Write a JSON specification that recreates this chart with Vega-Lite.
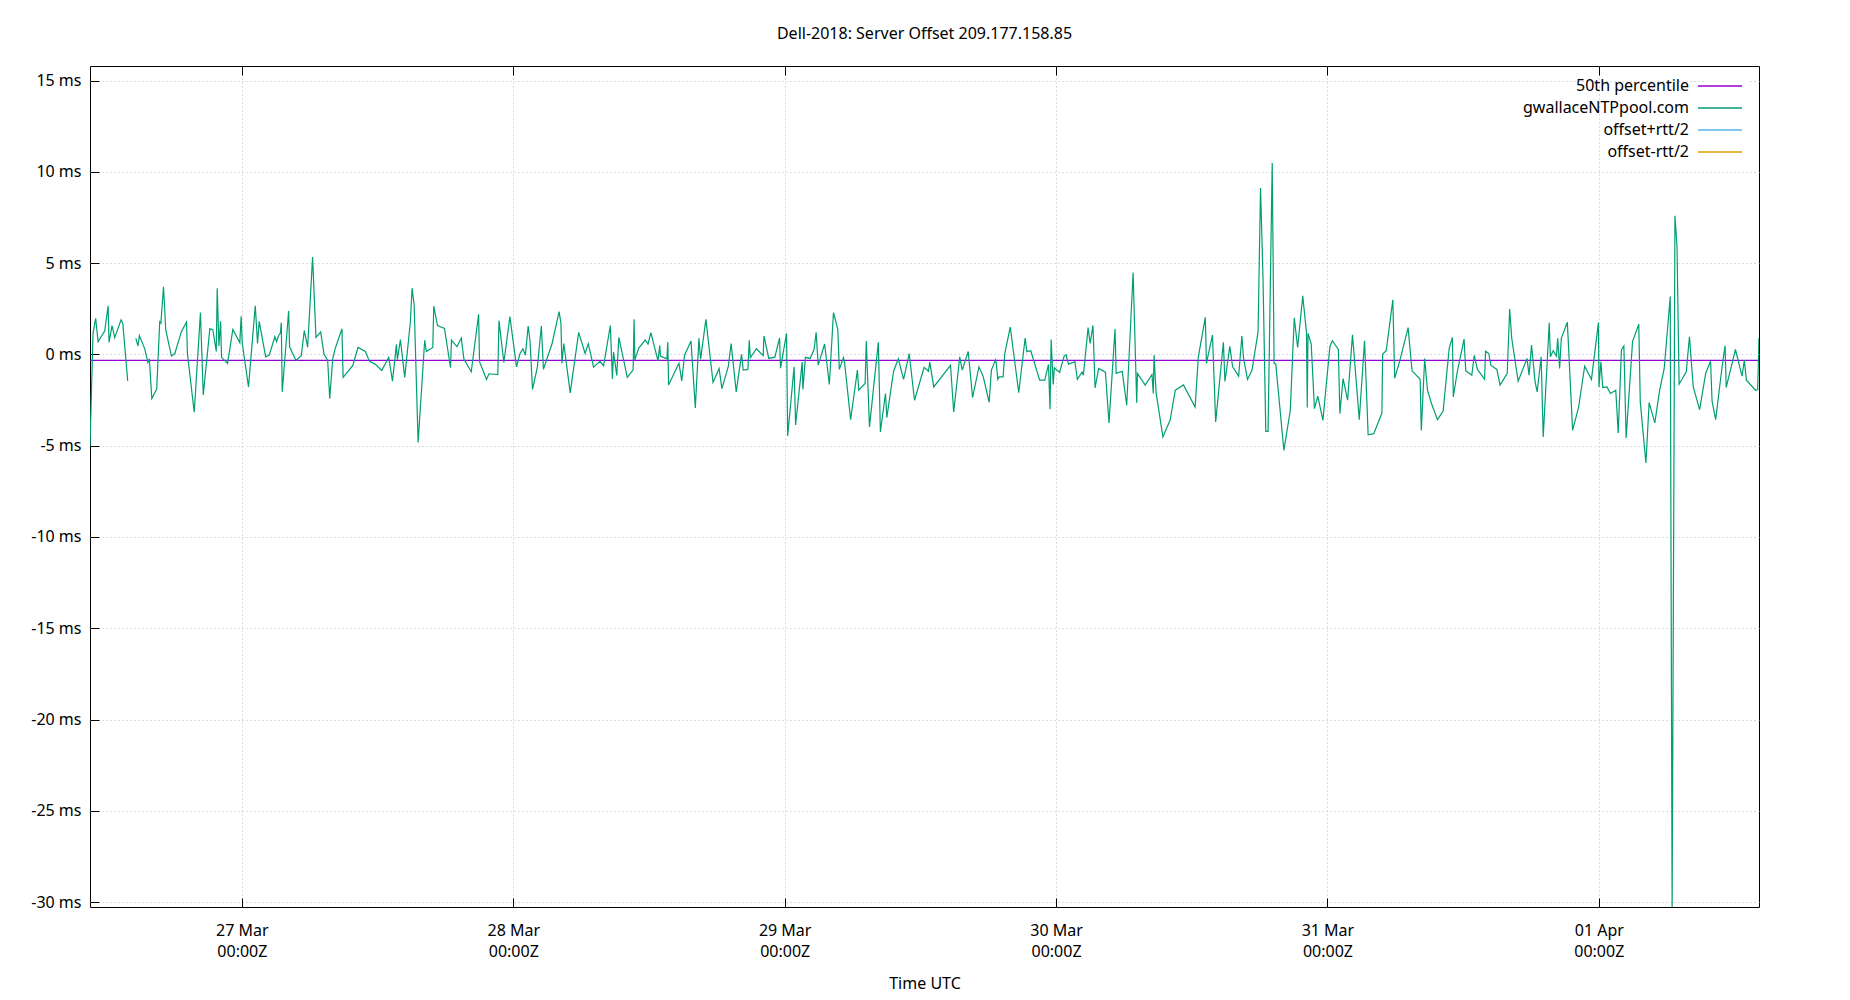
{
  "$schema": "https://vega.github.io/schema/vega-lite/v6.json",
  "description": "Server offset of one NTP pool server over about six days, with the median as a flat line.",
  "width": 1669,
  "height": 841,
  "autosize": {"type": "none"},
  "padding": {"left": 90, "top": 66, "right": 91, "bottom": 93},
  "background": "white",
  "title": {
    "text": "Dell-2018: Server Offset 209.177.158.85",
    "font": "Noto Sans",
    "fontSize": 16,
    "fontWeight": "normal",
    "color": "black",
    "anchor": "middle",
    "frame": "group",
    "offset": 24
  },
  "config": {
    "font": "Noto Sans",
    "view": {"stroke": "black", "strokeWidth": 1}
  },
  "datasets": {
    "median": [
      {"time": "2024-03-26T10:34Z", "offset": -0.33},
      {"time": "2024-04-01T14:10Z", "offset": -0.33}
    ],
    "ntp": [
      {"time": "2024-03-26T10:34Z", "offset": -5.0},
      {"time": "2024-03-26T10:50Z", "offset": 1.15},
      {"time": "2024-03-26T11:04Z", "offset": 1.98},
      {"time": "2024-03-26T11:17Z", "offset": 0.70},
      {"time": "2024-03-26T11:52Z", "offset": 1.28},
      {"time": "2024-03-26T12:10Z", "offset": 2.66},
      {"time": "2024-03-26T12:15Z", "offset": 0.66},
      {"time": "2024-03-26T12:31Z", "offset": 1.58},
      {"time": "2024-03-26T12:45Z", "offset": 0.92},
      {"time": "2024-03-26T13:19Z", "offset": 1.90},
      {"time": "2024-03-26T13:28Z", "offset": 1.70},
      {"time": "2024-03-26T13:54Z", "offset": -1.45},
      {"time": "2024-03-26T14:15Z", "offset": null},
      {"time": "2024-03-26T14:37Z", "offset": 0.88},
      {"time": "2024-03-26T14:49Z", "offset": 0.46},
      {"time": "2024-03-26T14:56Z", "offset": 1.03},
      {"time": "2024-03-26T15:25Z", "offset": 0.29},
      {"time": "2024-03-26T15:41Z", "offset": -0.44},
      {"time": "2024-03-26T15:49Z", "offset": -0.24},
      {"time": "2024-03-26T16:02Z", "offset": -2.42},
      {"time": "2024-03-26T16:28Z", "offset": -1.90},
      {"time": "2024-03-26T16:44Z", "offset": 1.79},
      {"time": "2024-03-26T16:50Z", "offset": 1.72},
      {"time": "2024-03-26T17:04Z", "offset": 3.70},
      {"time": "2024-03-26T17:16Z", "offset": 1.34},
      {"time": "2024-03-26T17:46Z", "offset": -0.09},
      {"time": "2024-03-26T18:04Z", "offset": 0.05},
      {"time": "2024-03-26T18:39Z", "offset": 1.25},
      {"time": "2024-03-26T19:06Z", "offset": 1.78},
      {"time": "2024-03-26T19:11Z", "offset": 0.05},
      {"time": "2024-03-26T19:47Z", "offset": -3.17},
      {"time": "2024-03-26T20:20Z", "offset": 2.29},
      {"time": "2024-03-26T20:35Z", "offset": -2.22},
      {"time": "2024-03-26T21:10Z", "offset": 1.41},
      {"time": "2024-03-26T21:26Z", "offset": 1.34},
      {"time": "2024-03-26T21:44Z", "offset": 0.16},
      {"time": "2024-03-26T21:49Z", "offset": 3.63},
      {"time": "2024-03-26T21:58Z", "offset": 0.46},
      {"time": "2024-03-26T22:07Z", "offset": 1.81},
      {"time": "2024-03-26T22:12Z", "offset": -0.16},
      {"time": "2024-03-26T22:44Z", "offset": -0.49},
      {"time": "2024-03-26T23:12Z", "offset": 1.37},
      {"time": "2024-03-26T23:49Z", "offset": 0.64},
      {"time": "2024-03-26T23:56Z", "offset": 2.09},
      {"time": "2024-03-27T00:02Z", "offset": 0.60},
      {"time": "2024-03-27T00:35Z", "offset": -1.78},
      {"time": "2024-03-27T01:11Z", "offset": 2.67},
      {"time": "2024-03-27T01:23Z", "offset": 0.60},
      {"time": "2024-03-27T01:32Z", "offset": 1.81},
      {"time": "2024-03-27T02:06Z", "offset": -0.13},
      {"time": "2024-03-27T02:25Z", "offset": -0.04},
      {"time": "2024-03-27T02:55Z", "offset": 0.97},
      {"time": "2024-03-27T03:04Z", "offset": 0.70},
      {"time": "2024-03-27T03:15Z", "offset": 1.04},
      {"time": "2024-03-27T03:24Z", "offset": 1.17},
      {"time": "2024-03-27T03:29Z", "offset": 1.74},
      {"time": "2024-03-27T03:34Z", "offset": -2.05},
      {"time": "2024-03-27T04:08Z", "offset": 2.38},
      {"time": "2024-03-27T04:13Z", "offset": 0.42},
      {"time": "2024-03-27T04:47Z", "offset": -0.33},
      {"time": "2024-03-27T05:15Z", "offset": -0.07},
      {"time": "2024-03-27T05:31Z", "offset": 1.30},
      {"time": "2024-03-27T05:49Z", "offset": 0.40},
      {"time": "2024-03-27T06:15Z", "offset": 5.33},
      {"time": "2024-03-27T06:33Z", "offset": 0.93},
      {"time": "2024-03-27T06:58Z", "offset": 1.23},
      {"time": "2024-03-27T07:16Z", "offset": 0.00},
      {"time": "2024-03-27T07:35Z", "offset": -0.31},
      {"time": "2024-03-27T07:46Z", "offset": -2.42},
      {"time": "2024-03-27T08:02Z", "offset": -0.24},
      {"time": "2024-03-27T08:14Z", "offset": 0.29},
      {"time": "2024-03-27T08:51Z", "offset": 1.41},
      {"time": "2024-03-27T08:57Z", "offset": -1.26},
      {"time": "2024-03-27T09:48Z", "offset": -0.62},
      {"time": "2024-03-27T10:16Z", "offset": 0.38},
      {"time": "2024-03-27T10:55Z", "offset": 0.16},
      {"time": "2024-03-27T11:17Z", "offset": -0.38},
      {"time": "2024-03-27T11:47Z", "offset": -0.53},
      {"time": "2024-03-27T12:22Z", "offset": -0.88},
      {"time": "2024-03-27T12:59Z", "offset": -0.16},
      {"time": "2024-03-27T13:19Z", "offset": -1.47},
      {"time": "2024-03-27T13:40Z", "offset": 0.55},
      {"time": "2024-03-27T13:45Z", "offset": -0.29},
      {"time": "2024-03-27T14:01Z", "offset": 0.81},
      {"time": "2024-03-27T14:24Z", "offset": -1.26},
      {"time": "2024-03-27T14:54Z", "offset": 1.79},
      {"time": "2024-03-27T15:03Z", "offset": 3.63},
      {"time": "2024-03-27T15:14Z", "offset": 2.71},
      {"time": "2024-03-27T15:35Z", "offset": -4.82},
      {"time": "2024-03-27T16:10Z", "offset": 0.77},
      {"time": "2024-03-27T16:19Z", "offset": 0.16},
      {"time": "2024-03-27T16:53Z", "offset": 0.38},
      {"time": "2024-03-27T16:58Z", "offset": 2.64},
      {"time": "2024-03-27T17:18Z", "offset": 1.58},
      {"time": "2024-03-27T17:55Z", "offset": 1.43},
      {"time": "2024-03-27T18:27Z", "offset": -0.73},
      {"time": "2024-03-27T18:32Z", "offset": 0.79},
      {"time": "2024-03-27T19:01Z", "offset": 0.42},
      {"time": "2024-03-27T19:24Z", "offset": 0.90},
      {"time": "2024-03-27T19:38Z", "offset": -0.26},
      {"time": "2024-03-27T20:17Z", "offset": -0.95},
      {"time": "2024-03-27T20:56Z", "offset": 2.20},
      {"time": "2024-03-27T21:01Z", "offset": -0.40},
      {"time": "2024-03-27T21:38Z", "offset": -1.37},
      {"time": "2024-03-27T21:51Z", "offset": -1.06},
      {"time": "2024-03-27T22:38Z", "offset": -1.10},
      {"time": "2024-03-27T22:44Z", "offset": 1.85},
      {"time": "2024-03-27T23:10Z", "offset": -0.44},
      {"time": "2024-03-27T23:42Z", "offset": 2.07},
      {"time": "2024-03-28T00:17Z", "offset": -0.68},
      {"time": "2024-03-28T00:36Z", "offset": 0.05},
      {"time": "2024-03-28T00:51Z", "offset": 0.31},
      {"time": "2024-03-28T01:04Z", "offset": -0.04},
      {"time": "2024-03-28T01:19Z", "offset": 1.56},
      {"time": "2024-03-28T01:29Z", "offset": 0.71},
      {"time": "2024-03-28T01:42Z", "offset": -1.92},
      {"time": "2024-03-28T02:08Z", "offset": -0.68},
      {"time": "2024-03-28T02:29Z", "offset": 1.56},
      {"time": "2024-03-28T02:40Z", "offset": -0.81},
      {"time": "2024-03-28T03:26Z", "offset": 0.60},
      {"time": "2024-03-28T04:03Z", "offset": 2.34},
      {"time": "2024-03-28T04:13Z", "offset": 1.70},
      {"time": "2024-03-28T04:18Z", "offset": -0.49},
      {"time": "2024-03-28T04:28Z", "offset": 0.60},
      {"time": "2024-03-28T05:02Z", "offset": -2.11},
      {"time": "2024-03-28T05:47Z", "offset": 1.21},
      {"time": "2024-03-28T06:21Z", "offset": 0.05},
      {"time": "2024-03-28T06:38Z", "offset": 0.59},
      {"time": "2024-03-28T07:06Z", "offset": -0.70},
      {"time": "2024-03-28T07:40Z", "offset": -0.38},
      {"time": "2024-03-28T07:59Z", "offset": -0.62},
      {"time": "2024-03-28T08:35Z", "offset": 1.58},
      {"time": "2024-03-28T08:46Z", "offset": -1.34},
      {"time": "2024-03-28T08:52Z", "offset": 0.13},
      {"time": "2024-03-28T09:09Z", "offset": -1.15},
      {"time": "2024-03-28T09:20Z", "offset": 0.93},
      {"time": "2024-03-28T10:05Z", "offset": -1.26},
      {"time": "2024-03-28T10:36Z", "offset": -0.84},
      {"time": "2024-03-28T10:41Z", "offset": 1.92},
      {"time": "2024-03-28T10:45Z", "offset": -0.31},
      {"time": "2024-03-28T11:06Z", "offset": 0.35},
      {"time": "2024-03-28T11:40Z", "offset": 0.79},
      {"time": "2024-03-28T11:55Z", "offset": 0.57},
      {"time": "2024-03-28T12:10Z", "offset": 1.19},
      {"time": "2024-03-28T12:48Z", "offset": -0.35},
      {"time": "2024-03-28T12:57Z", "offset": 0.48},
      {"time": "2024-03-28T13:01Z", "offset": -0.09},
      {"time": "2024-03-28T13:35Z", "offset": -0.24},
      {"time": "2024-03-28T13:40Z", "offset": 0.68},
      {"time": "2024-03-28T13:44Z", "offset": -1.67},
      {"time": "2024-03-28T14:39Z", "offset": -0.48},
      {"time": "2024-03-28T14:54Z", "offset": -1.45},
      {"time": "2024-03-28T15:09Z", "offset": -0.04},
      {"time": "2024-03-28T15:43Z", "offset": 0.73},
      {"time": "2024-03-28T16:06Z", "offset": -2.93},
      {"time": "2024-03-28T16:25Z", "offset": 0.88},
      {"time": "2024-03-28T16:34Z", "offset": -0.26},
      {"time": "2024-03-28T17:02Z", "offset": 1.92},
      {"time": "2024-03-28T17:40Z", "offset": -1.54},
      {"time": "2024-03-28T18:12Z", "offset": -0.77},
      {"time": "2024-03-28T18:27Z", "offset": -1.87},
      {"time": "2024-03-28T19:01Z", "offset": -0.66},
      {"time": "2024-03-28T19:16Z", "offset": 0.59},
      {"time": "2024-03-28T19:43Z", "offset": -2.05},
      {"time": "2024-03-28T20:11Z", "offset": 0.00},
      {"time": "2024-03-28T20:20Z", "offset": -0.86},
      {"time": "2024-03-28T20:45Z", "offset": -0.82},
      {"time": "2024-03-28T20:52Z", "offset": 0.77},
      {"time": "2024-03-28T20:58Z", "offset": -0.18},
      {"time": "2024-03-28T21:30Z", "offset": 0.31},
      {"time": "2024-03-28T22:06Z", "offset": -0.07},
      {"time": "2024-03-28T22:10Z", "offset": 1.01},
      {"time": "2024-03-28T22:36Z", "offset": -0.22},
      {"time": "2024-03-28T23:08Z", "offset": -0.15},
      {"time": "2024-03-28T23:33Z", "offset": 0.90},
      {"time": "2024-03-28T23:38Z", "offset": -0.75},
      {"time": "2024-03-29T00:10Z", "offset": 1.15},
      {"time": "2024-03-29T00:16Z", "offset": -4.47},
      {"time": "2024-03-29T00:50Z", "offset": -0.68},
      {"time": "2024-03-29T00:58Z", "offset": -3.86},
      {"time": "2024-03-29T01:33Z", "offset": -0.42},
      {"time": "2024-03-29T01:37Z", "offset": -1.92},
      {"time": "2024-03-29T01:50Z", "offset": -0.16},
      {"time": "2024-03-29T02:15Z", "offset": -0.22},
      {"time": "2024-03-29T02:36Z", "offset": 0.27},
      {"time": "2024-03-29T02:47Z", "offset": 1.21},
      {"time": "2024-03-29T02:58Z", "offset": -0.59},
      {"time": "2024-03-29T03:32Z", "offset": 0.57},
      {"time": "2024-03-29T03:57Z", "offset": -1.65},
      {"time": "2024-03-29T04:19Z", "offset": 2.29},
      {"time": "2024-03-29T04:42Z", "offset": 1.37},
      {"time": "2024-03-29T04:50Z", "offset": -0.82},
      {"time": "2024-03-29T05:12Z", "offset": -0.18},
      {"time": "2024-03-29T05:18Z", "offset": -0.46},
      {"time": "2024-03-29T05:50Z", "offset": -3.57},
      {"time": "2024-03-29T06:26Z", "offset": -0.86},
      {"time": "2024-03-29T06:33Z", "offset": -1.96},
      {"time": "2024-03-29T07:07Z", "offset": -1.59},
      {"time": "2024-03-29T07:13Z", "offset": 0.73},
      {"time": "2024-03-29T07:30Z", "offset": -3.97},
      {"time": "2024-03-29T08:17Z", "offset": 0.66},
      {"time": "2024-03-29T08:28Z", "offset": -4.25},
      {"time": "2024-03-29T08:55Z", "offset": -2.14},
      {"time": "2024-03-29T09:02Z", "offset": -3.46},
      {"time": "2024-03-29T09:38Z", "offset": -0.92},
      {"time": "2024-03-29T10:03Z", "offset": -0.24},
      {"time": "2024-03-29T10:31Z", "offset": -1.37},
      {"time": "2024-03-29T11:01Z", "offset": 0.04},
      {"time": "2024-03-29T11:29Z", "offset": -2.51},
      {"time": "2024-03-29T12:20Z", "offset": -0.71},
      {"time": "2024-03-29T12:43Z", "offset": -0.92},
      {"time": "2024-03-29T12:50Z", "offset": -0.42},
      {"time": "2024-03-29T13:11Z", "offset": -1.78},
      {"time": "2024-03-29T14:40Z", "offset": -0.60},
      {"time": "2024-03-29T14:57Z", "offset": -3.15},
      {"time": "2024-03-29T15:29Z", "offset": -0.13},
      {"time": "2024-03-29T15:42Z", "offset": -0.86},
      {"time": "2024-03-29T16:14Z", "offset": 0.16},
      {"time": "2024-03-29T16:37Z", "offset": -2.36},
      {"time": "2024-03-29T17:11Z", "offset": -0.68},
      {"time": "2024-03-29T17:33Z", "offset": -1.19},
      {"time": "2024-03-29T18:05Z", "offset": -2.62},
      {"time": "2024-03-29T18:17Z", "offset": -0.86},
      {"time": "2024-03-29T18:39Z", "offset": -0.29},
      {"time": "2024-03-29T18:43Z", "offset": -0.49},
      {"time": "2024-03-29T18:51Z", "offset": -1.36},
      {"time": "2024-03-29T18:58Z", "offset": -1.23},
      {"time": "2024-03-29T19:19Z", "offset": -1.23},
      {"time": "2024-03-29T19:28Z", "offset": 0.05},
      {"time": "2024-03-29T19:57Z", "offset": 1.50},
      {"time": "2024-03-29T20:42Z", "offset": -2.09},
      {"time": "2024-03-29T21:16Z", "offset": 0.90},
      {"time": "2024-03-29T21:25Z", "offset": 0.15},
      {"time": "2024-03-29T21:46Z", "offset": 0.20},
      {"time": "2024-03-29T22:33Z", "offset": -1.41},
      {"time": "2024-03-29T23:00Z", "offset": -1.41},
      {"time": "2024-03-29T23:20Z", "offset": -0.55},
      {"time": "2024-03-29T23:28Z", "offset": -3.00},
      {"time": "2024-03-29T23:34Z", "offset": 0.82},
      {"time": "2024-03-29T23:45Z", "offset": -1.65},
      {"time": "2024-03-29T23:51Z", "offset": -0.73},
      {"time": "2024-03-30T00:19Z", "offset": -0.99},
      {"time": "2024-03-30T00:43Z", "offset": -0.09},
      {"time": "2024-03-30T00:53Z", "offset": -0.02},
      {"time": "2024-03-30T01:06Z", "offset": -0.53},
      {"time": "2024-03-30T01:40Z", "offset": -0.40},
      {"time": "2024-03-30T01:53Z", "offset": -1.36},
      {"time": "2024-03-30T02:18Z", "offset": -0.97},
      {"time": "2024-03-30T02:25Z", "offset": -1.14},
      {"time": "2024-03-30T02:50Z", "offset": 1.47},
      {"time": "2024-03-30T03:01Z", "offset": 0.60},
      {"time": "2024-03-30T03:16Z", "offset": 1.59},
      {"time": "2024-03-30T03:27Z", "offset": -1.83},
      {"time": "2024-03-30T03:46Z", "offset": -0.77},
      {"time": "2024-03-30T04:22Z", "offset": -0.97},
      {"time": "2024-03-30T04:41Z", "offset": -3.75},
      {"time": "2024-03-30T05:13Z", "offset": 1.39},
      {"time": "2024-03-30T05:19Z", "offset": -1.04},
      {"time": "2024-03-30T05:51Z", "offset": -0.92},
      {"time": "2024-03-30T06:15Z", "offset": -2.78},
      {"time": "2024-03-30T06:49Z", "offset": 4.49},
      {"time": "2024-03-30T07:08Z", "offset": -2.64},
      {"time": "2024-03-30T07:12Z", "offset": -1.04},
      {"time": "2024-03-30T07:53Z", "offset": -1.68},
      {"time": "2024-03-30T08:29Z", "offset": -1.10},
      {"time": "2024-03-30T08:36Z", "offset": -2.14},
      {"time": "2024-03-30T08:40Z", "offset": -0.04},
      {"time": "2024-03-30T08:51Z", "offset": -2.11},
      {"time": "2024-03-30T09:27Z", "offset": -4.52},
      {"time": "2024-03-30T10:05Z", "offset": -3.61},
      {"time": "2024-03-30T10:33Z", "offset": -1.96},
      {"time": "2024-03-30T11:16Z", "offset": -1.67},
      {"time": "2024-03-30T12:18Z", "offset": -2.88},
      {"time": "2024-03-30T12:35Z", "offset": -0.13},
      {"time": "2024-03-30T13:12Z", "offset": 2.03},
      {"time": "2024-03-30T13:18Z", "offset": -0.49},
      {"time": "2024-03-30T13:50Z", "offset": 1.06},
      {"time": "2024-03-30T14:07Z", "offset": -3.70},
      {"time": "2024-03-30T14:48Z", "offset": 0.66},
      {"time": "2024-03-30T14:56Z", "offset": -1.48},
      {"time": "2024-03-30T15:22Z", "offset": 0.44},
      {"time": "2024-03-30T15:37Z", "offset": -0.68},
      {"time": "2024-03-30T16:09Z", "offset": -1.19},
      {"time": "2024-03-30T16:26Z", "offset": 1.01},
      {"time": "2024-03-30T16:35Z", "offset": -0.22},
      {"time": "2024-03-30T16:56Z", "offset": -1.37},
      {"time": "2024-03-30T17:20Z", "offset": -0.86},
      {"time": "2024-03-30T17:52Z", "offset": 1.25},
      {"time": "2024-03-30T18:05Z", "offset": 9.12},
      {"time": "2024-03-30T18:18Z", "offset": 4.27},
      {"time": "2024-03-30T18:33Z", "offset": -4.21},
      {"time": "2024-03-30T18:45Z", "offset": -4.21},
      {"time": "2024-03-30T19:07Z", "offset": 10.49},
      {"time": "2024-03-30T19:17Z", "offset": -0.49},
      {"time": "2024-03-30T19:26Z", "offset": -0.53},
      {"time": "2024-03-30T20:09Z", "offset": -5.26},
      {"time": "2024-03-30T20:43Z", "offset": -3.06},
      {"time": "2024-03-30T21:04Z", "offset": 2.00},
      {"time": "2024-03-30T21:22Z", "offset": 0.38},
      {"time": "2024-03-30T21:49Z", "offset": 3.21},
      {"time": "2024-03-30T22:09Z", "offset": 1.19},
      {"time": "2024-03-30T22:13Z", "offset": -2.91},
      {"time": "2024-03-30T22:17Z", "offset": 1.15},
      {"time": "2024-03-30T22:34Z", "offset": 0.57},
      {"time": "2024-03-30T22:51Z", "offset": -2.97},
      {"time": "2024-03-30T23:09Z", "offset": -2.29},
      {"time": "2024-03-30T23:36Z", "offset": -3.61},
      {"time": "2024-03-31T00:13Z", "offset": 0.42},
      {"time": "2024-03-31T00:26Z", "offset": 0.75},
      {"time": "2024-03-31T00:58Z", "offset": 0.27},
      {"time": "2024-03-31T01:06Z", "offset": -3.24},
      {"time": "2024-03-31T01:23Z", "offset": -1.32},
      {"time": "2024-03-31T01:47Z", "offset": -2.51},
      {"time": "2024-03-31T02:13Z", "offset": 1.08},
      {"time": "2024-03-31T02:49Z", "offset": -3.57},
      {"time": "2024-03-31T03:17Z", "offset": 0.75},
      {"time": "2024-03-31T03:36Z", "offset": -4.40},
      {"time": "2024-03-31T04:06Z", "offset": -4.34},
      {"time": "2024-03-31T04:49Z", "offset": -3.21},
      {"time": "2024-03-31T04:53Z", "offset": 0.02},
      {"time": "2024-03-31T05:12Z", "offset": 0.20},
      {"time": "2024-03-31T05:47Z", "offset": 2.99},
      {"time": "2024-03-31T05:57Z", "offset": -1.30},
      {"time": "2024-03-31T06:25Z", "offset": -0.31},
      {"time": "2024-03-31T07:08Z", "offset": 1.47},
      {"time": "2024-03-31T07:29Z", "offset": -0.90},
      {"time": "2024-03-31T08:12Z", "offset": -1.36},
      {"time": "2024-03-31T08:18Z", "offset": -4.16},
      {"time": "2024-03-31T08:36Z", "offset": -0.22},
      {"time": "2024-03-31T08:51Z", "offset": -1.96},
      {"time": "2024-03-31T09:12Z", "offset": -2.69},
      {"time": "2024-03-31T09:44Z", "offset": -3.57},
      {"time": "2024-03-31T10:14Z", "offset": -3.10},
      {"time": "2024-03-31T10:46Z", "offset": 0.33},
      {"time": "2024-03-31T11:03Z", "offset": 0.93},
      {"time": "2024-03-31T11:08Z", "offset": -2.33},
      {"time": "2024-03-31T11:29Z", "offset": -0.95},
      {"time": "2024-03-31T12:05Z", "offset": 0.84},
      {"time": "2024-03-31T12:14Z", "offset": -0.90},
      {"time": "2024-03-31T12:46Z", "offset": -1.14},
      {"time": "2024-03-31T12:59Z", "offset": -0.05},
      {"time": "2024-03-31T13:16Z", "offset": -0.82},
      {"time": "2024-03-31T13:54Z", "offset": -1.36},
      {"time": "2024-03-31T13:59Z", "offset": 0.18},
      {"time": "2024-03-31T14:16Z", "offset": 0.05},
      {"time": "2024-03-31T14:27Z", "offset": -0.59},
      {"time": "2024-03-31T14:59Z", "offset": -0.82},
      {"time": "2024-03-31T15:16Z", "offset": -1.68},
      {"time": "2024-03-31T15:54Z", "offset": -1.04},
      {"time": "2024-03-31T16:07Z", "offset": 2.49},
      {"time": "2024-03-31T16:18Z", "offset": 0.88},
      {"time": "2024-03-31T16:52Z", "offset": -1.47},
      {"time": "2024-03-31T17:39Z", "offset": -0.22},
      {"time": "2024-03-31T17:50Z", "offset": -1.14},
      {"time": "2024-03-31T18:03Z", "offset": 0.51},
      {"time": "2024-03-31T18:22Z", "offset": -1.50},
      {"time": "2024-03-31T18:33Z", "offset": -2.05},
      {"time": "2024-03-31T18:54Z", "offset": -0.13},
      {"time": "2024-03-31T19:05Z", "offset": -4.52},
      {"time": "2024-03-31T19:37Z", "offset": 1.74},
      {"time": "2024-03-31T19:43Z", "offset": -0.13},
      {"time": "2024-03-31T19:58Z", "offset": 0.20},
      {"time": "2024-03-31T20:15Z", "offset": -0.09},
      {"time": "2024-03-31T20:22Z", "offset": 0.88},
      {"time": "2024-03-31T20:32Z", "offset": -0.77},
      {"time": "2024-03-31T20:41Z", "offset": 0.88},
      {"time": "2024-03-31T21:13Z", "offset": 1.76},
      {"time": "2024-03-31T21:41Z", "offset": -4.16},
      {"time": "2024-03-31T22:13Z", "offset": -2.88},
      {"time": "2024-03-31T22:45Z", "offset": -0.64},
      {"time": "2024-03-31T23:21Z", "offset": -1.37},
      {"time": "2024-03-31T23:58Z", "offset": 1.74},
      {"time": "2024-04-01T00:01Z", "offset": -1.78},
      {"time": "2024-04-01T00:11Z", "offset": -0.40},
      {"time": "2024-04-01T00:21Z", "offset": -1.81},
      {"time": "2024-04-01T00:43Z", "offset": -1.78},
      {"time": "2024-04-01T01:02Z", "offset": -2.14},
      {"time": "2024-04-01T01:30Z", "offset": -1.96},
      {"time": "2024-04-01T01:43Z", "offset": -4.30},
      {"time": "2024-04-01T02:00Z", "offset": 0.24},
      {"time": "2024-04-01T02:13Z", "offset": 0.46},
      {"time": "2024-04-01T02:25Z", "offset": -4.58},
      {"time": "2024-04-01T02:59Z", "offset": 0.70},
      {"time": "2024-04-01T03:32Z", "offset": 1.65},
      {"time": "2024-04-01T03:40Z", "offset": -2.60},
      {"time": "2024-04-01T04:10Z", "offset": -5.95},
      {"time": "2024-04-01T04:27Z", "offset": -2.64},
      {"time": "2024-04-01T04:57Z", "offset": -3.75},
      {"time": "2024-04-01T05:23Z", "offset": -1.96},
      {"time": "2024-04-01T05:47Z", "offset": -0.77},
      {"time": "2024-04-01T06:19Z", "offset": 3.17},
      {"time": "2024-04-01T06:29Z", "offset": -30.3},
      {"time": "2024-04-01T06:44Z", "offset": 7.60},
      {"time": "2024-04-01T06:55Z", "offset": 5.92},
      {"time": "2024-04-01T07:06Z", "offset": -1.63},
      {"time": "2024-04-01T07:44Z", "offset": -0.95},
      {"time": "2024-04-01T08:01Z", "offset": 0.97},
      {"time": "2024-04-01T08:21Z", "offset": -1.78},
      {"time": "2024-04-01T08:55Z", "offset": -3.02},
      {"time": "2024-04-01T09:27Z", "offset": -1.04},
      {"time": "2024-04-01T09:53Z", "offset": -0.37},
      {"time": "2024-04-01T10:01Z", "offset": -2.56},
      {"time": "2024-04-01T10:20Z", "offset": -3.57},
      {"time": "2024-04-01T10:53Z", "offset": -0.77},
      {"time": "2024-04-01T11:10Z", "offset": 0.48},
      {"time": "2024-04-01T11:16Z", "offset": -1.81},
      {"time": "2024-04-01T12:05Z", "offset": 0.27},
      {"time": "2024-04-01T12:40Z", "offset": -1.19},
      {"time": "2024-04-01T12:52Z", "offset": -0.31},
      {"time": "2024-04-01T13:03Z", "offset": -1.41},
      {"time": "2024-04-01T13:52Z", "offset": -1.96},
      {"time": "2024-04-01T14:03Z", "offset": -1.92},
      {"time": "2024-04-01T14:10Z", "offset": 0.90}
    ]
  },
  "resolve": {"axis": {"x": "independent"}},
  "layer": [
    {
      "data": {"name": "median"},
      "mark": {"type": "line", "strokeWidth": 1.2, "clip": true},
      "encoding": {
        "x": {
          "field": "time",
          "type": "temporal",
          "scale": {
            "type": "utc",
            "domain": [
              {"year": 2024, "month": 3, "date": 26, "hours": 10, "minutes": 34, "utc": true},
              {"year": 2024, "month": 4, "date": 1, "hours": 14, "minutes": 10, "utc": true}
            ]
          },
          "axis": {
            "orient": "top",
            "title": null,
            "labels": false,
            "grid": false,
            "domain": false,
            "tickSize": -9,
            "tickColor": "black",
            "values": [
              {"year": 2024, "month": 3, "date": 27, "utc": true},
              {"year": 2024, "month": 3, "date": 28, "utc": true},
              {"year": 2024, "month": 3, "date": 29, "utc": true},
              {"year": 2024, "month": 3, "date": 30, "utc": true},
              {"year": 2024, "month": 3, "date": 31, "utc": true},
              {"year": 2024, "month": 4, "date": 1, "utc": true}
            ]
          }
        },
        "y": {
          "field": "offset",
          "type": "quantitative",
          "scale": {"domain": [-30.27, 15.8], "nice": false, "zero": false},
          "axis": {
            "title": null,
            "values": [-30, -25, -20, -15, -10, -5, 0, 5, 10, 15],
            "labelExpr": "datum.value + ' ms'",
            "labelFont": "Noto Sans",
            "labelFontSize": 16,
            "labelColor": "black",
            "labelPadding": 18,
            "tickSize": -9,
            "tickColor": "black",
            "domain": false,
            "grid": true,
            "gridColor": "#bbbbbb",
            "gridDash": [1, 3]
          }
        },
        "color": {
          "datum": "50th percentile",
          "scale": {
            "domain": ["50th percentile", "gwallaceNTPpool.com", "offset+rtt/2", "offset-rtt/2"],
            "range": ["#9400d3", "#009e73", "#56b4e9", "#e69f00"]
          },
          "legend": {
            "title": null,
            "orient": "none",
            "legendX": 1614,
            "legendY": 4,
            "padding": 4,
            "fillColor": "white",
            "symbolType": "M-2,0H2",
            "symbolSize": 484,
            "symbolStrokeWidth": 1.5,
            "labelAlign": "right",
            "labelOffset": -43,
            "labelFont": "Noto Sans",
            "labelFontSize": 16,
            "labelColor": "black",
            "labelLimit": 400,
            "rowPadding": 2
          }
        }
      }
    },
    {
      "data": {"name": "ntp"},
      "mark": {"type": "line", "strokeWidth": 1.2, "clip": true, "invalid": "break-paths-show-domains"},
      "encoding": {
        "x": {
          "field": "time",
          "type": "temporal",
          "axis": {
            "orient": "bottom",
            "title": "Time UTC",
            "titleFont": "Noto Sans",
            "titleFontSize": 16,
            "titleFontWeight": "normal",
            "titleColor": "black",
            "titlePadding": 16,
            "values": [
              {"year": 2024, "month": 3, "date": 27, "utc": true},
              {"year": 2024, "month": 3, "date": 28, "utc": true},
              {"year": 2024, "month": 3, "date": 29, "utc": true},
              {"year": 2024, "month": 3, "date": 30, "utc": true},
              {"year": 2024, "month": 3, "date": 31, "utc": true},
              {"year": 2024, "month": 4, "date": 1, "utc": true}
            ],
            "labelExpr": "[utcFormat(datum.value, '%d %b'), utcFormat(datum.value, '%H:%MZ')]",
            "labelFont": "Noto Sans",
            "labelFontSize": 16,
            "labelColor": "black",
            "labelLineHeight": 21.7,
            "labelPadding": 24,
            "tickSize": -9,
            "tickColor": "black",
            "domain": false,
            "grid": true,
            "gridColor": "#bbbbbb",
            "gridDash": [1, 3]
          }
        },
        "y": {"field": "offset", "type": "quantitative"},
        "color": {"datum": "gwallaceNTPpool.com"}
      }
    }
  ]
}
